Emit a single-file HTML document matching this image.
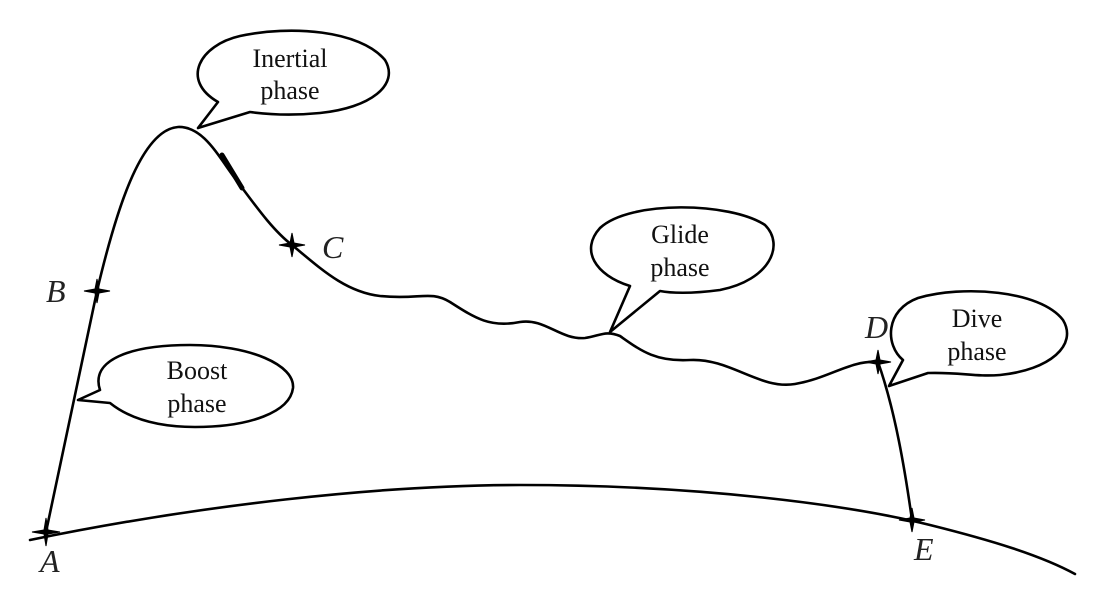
<!DOCTYPE html>
<html><head><style>
html,body{margin:0;padding:0;background:#fff;}
svg{display:block;}
.t{font-family:"Liberation Serif",serif;font-size:26px;fill:#111;text-anchor:middle;}
.l{font-family:"Liberation Serif",serif;font-size:32px;font-style:italic;fill:#222;}
</style></head><body>
<svg width="1118" height="603" viewBox="0 0 1118 603" xmlns="http://www.w3.org/2000/svg">
<g fill="none" stroke="#000" stroke-width="2.6" stroke-linejoin="round" stroke-linecap="round">
<path d="M30,540 C200,505 380,485 520,485 C700,485 850,505 930,525 C990,540 1040,555 1075,574"/>
<path d="M46,532 L97,291 C115,215 140,130 178,127 C205,126 220,160 240,185 C260,212 275,232 292,245 C320,268 345,292 380,296 C420,300 430,290 450,302 C475,318 490,328 520,322 C545,318 560,340 585,338 C600,336 605,330 620,336 C640,350 655,362 690,360 C730,358 760,390 795,384 C830,378 850,360 878,362"/>
<path d="M878,362 C895,410 905,470 912,520"/>
<path d="M222,155 L242,188" stroke-width="5"/>
<path d="M198,128 L218,102 C180,80 200,45 240,36 C290,25 360,30 385,60 C400,85 370,108 320,113 C290,116 265,114 250,112 Z" fill="#fff"/>
<path d="M610,332 L630,286 C595,275 580,250 600,228 C630,200 730,202 765,225 C785,245 770,280 720,290 C690,294 670,293 660,291 Z" fill="#fff"/>
<path d="M889,386 L903,360 C885,345 885,310 918,298 C962,285 1040,290 1063,320 C1078,345 1050,370 1000,375 C975,377 960,372 928,373 Z" fill="#fff"/>
<path d="M78,400 L100,390 C90,360 130,345 190,345 C250,345 295,365 293,388 C290,412 250,427 195,427 C150,427 125,415 110,403 Z" fill="#fff"/>
</g>
<g fill="#000" stroke="#000" stroke-width="1">
<path d="M46,518 L48,530 L60,532 L48,534 L46,546 L44,534 L32,532 L44,530 Z"/>
<path d="M97,279 L99,289 L110,291 L99,293 L97,303 L95,293 L84,291 L95,289 Z"/>
<path d="M292,233 L294,243 L305,245 L294,247 L292,257 L290,247 L279,245 L290,243 Z"/>
<path d="M878,350 L880,360 L891,362 L880,364 L878,374 L876,364 L865,362 L876,360 Z"/>
<path d="M912,508 L914,518 L925,520 L914,522 L912,532 L910,522 L899,520 L910,518 Z"/>
</g>
<text class="t" x="290" y="67">Inertial</text>
<text class="t" x="290" y="99">phase</text>
<text class="t" x="680" y="243">Glide</text>
<text class="t" x="680" y="276">phase</text>
<text class="t" x="977" y="327">Dive</text>
<text class="t" x="977" y="360">phase</text>
<text class="t" x="197" y="379">Boost</text>
<text class="t" x="197" y="412">phase</text>
<text class="l" x="40" y="572">A</text>
<text class="l" x="46" y="302">B</text>
<text class="l" x="322" y="258">C</text>
<text class="l" x="865" y="338">D</text>
<text class="l" x="914" y="560">E</text>
</svg>
</body></html>
